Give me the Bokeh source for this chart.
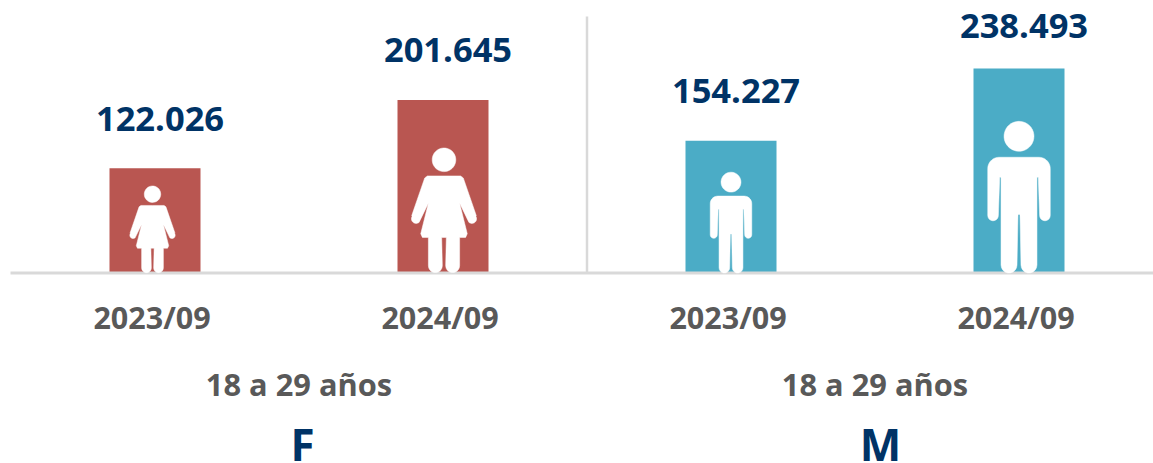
import numpy as np
from bokeh.embed import file_html
from bokeh.resources import INLINE
from bokeh.plotting import figure
from bokeh.models import Range1d, ColumnDataSource
from bokeh.core.properties import value

# ---- data
periods = ["2023/09", "2024/09", "2023/09", "2024/09"]
values = [122026, 201645, 154227, 238493]
colors = ["#B95651", "#B95651", "#4BACC6", "#4BACC6"]
icon_kind = ["woman", "woman", "man", "man"]
icon_height_px = [87, 125, 101, 152]
icon_shift_px = [-2.5, 1, 0, 0]
label_gap_px = [35, 35.7, 35, 28]
group_x = [0.5, 2.5]
group_labels = ["18 a 29 años", "18 a 29 años"]
gender_labels = ["F", "M"]
gender_offset_px = [3.5, 5.5]

# ---- layout (picture pixels)
W, H = 1153, 463
BASE = 272.5
PX_X = 288.0
PX_Y = 204.5 / 238493
BAR_W = 91 / PX_X
FONT = "Open Sans"
NAVY = "#003366"
GREY = "#595959"
RULE = "#D9D9D9"
RULE_LEFT = 10
BL = 0.42  # em shift of the rendered baseline below the anchor
VALUE_SIZE = 34.5


def data_y(py):
    return (BASE - py) / PX_Y


X0 = -154.5 / PX_X
X1 = X0 + W / PX_X

p = figure(width=W, height=H, output_backend="svg", toolbar_location=None,
           x_range=Range1d(X0, X1), y_range=Range1d(data_y(H), data_y(0)),
           min_border=0, outline_line_color=None, x_axis_location=None, y_axis_location=None,
           background_fill_color="white", border_fill_color="white")
p.grid.visible = False

idx = list(range(len(values)))

src = ColumnDataSource(dict(x=idx, top=values, color=colors,
                            gap=[-g - BL * VALUE_SIZE for g in label_gap_px],
                            label=[f"{v:,}".replace(",", ".") for v in values]))
p.vbar(x="x", top="top", bottom=0, width=BAR_W, fill_color="color", line_color=None, source=src)
p.text(x="x", y="top", text="label", source=src, text_align="center", text_baseline="alphabetic",
       x_offset=5, y_offset="gap", text_font=value(FONT), text_font_style="bold",
       text_font_size=f"{VALUE_SIZE}px", text_color=NAVY)

# baseline and separator between the two groups
p.segment(x0=[X0 + RULE_LEFT / PX_X], x1=[X1], y0=[0], y1=[0], line_color=RULE, line_width=3)
p.segment(x0=[1.5], x1=[1.5], y0=[0], y1=[data_y(16)], line_color=RULE, line_width=2.5)


def arc(cx, cy, r, a0, a1, n=10):
    t = np.radians(np.linspace(a0, a1, n))
    return [(cx + r * np.cos(a), cy + r * np.sin(a)) for a in t]


# Right half outlines in reference-zoom units: dx from centre, dy down from head top.
def man_shape():
    total = 457.0
    half = [(0, 109), (60, 109)] + arc(60, 143, 34, -90, 0) + [(94, 284)] + arc(78, 284, 16, 0, 180) \
        + [(58, 169), (54, 169), (54, 433)] + arc(30, 433, 24, 0, 180) + [(3, 281), (0, 281)]
    return half, (46, 45), total


def woman_shape():
    total = 376.0
    half = [(0, 84), (50, 84), (58, 90), (97, 203)] + arc(84, 213, 14, -30, 130) \
        + [(47, 166), (70, 258), (65, 269), (47, 269), (47, 354)] + arc(26, 354, 21, 0, 180) \
        + [(7, 269), (0, 269)]
    return half, (35.5, 35.5), total


xs, ys = [], []
for i, kind, hpx, shift in zip(idx, icon_kind, icon_height_px, icon_shift_px):
    half, (cy, r), total = man_shape() if kind == "man" else woman_shape()
    s = hpx / total
    pts = half + [(-a, b) for a, b in reversed(half)]
    to_x = lambda dx: i + (dx * s + shift) / PX_X
    to_y = lambda dy: (total - dy) * s / PX_Y
    xs.append([to_x(a) for a, _ in pts])
    ys.append([to_y(b) for _, b in pts])
    head = arc(0, cy, r, 0, 360, 40)
    xs.append([to_x(a) for a, _ in head])
    ys.append([to_y(b) for _, b in head])
p.patches(xs, ys, fill_color="white", line_color="white", line_width=0.5)

# period labels and group captions below the baseline
p.text(x=idx, y=[data_y(329.3 - BL * 30.5)] * 4, x_offset=-3, text=periods, text_align="center",
       text_baseline="alphabetic", text_font=value(FONT), text_font_style="bold",
       text_font_size="30.5px", text_color=GREY)
p.text(x=group_x, y=[data_y(396 - BL * 30.8)] * 2, text=group_labels, text_align="center",
       text_baseline="alphabetic", text_font=value(FONT), text_font_style="bold",
       text_font_size="30.8px", text_color=GREY)
p.text(x=[g + o / PX_X for g, o in zip(group_x, gender_offset_px)], y=[data_y(461.5 - BL * 44)] * 2,
       text=gender_labels, text_align="center", text_baseline="alphabetic",
       text_font=value(FONT), text_font_style="bold", text_font_size="44px", text_color=NAVY)

open("out.html", "w").write(file_html(p, INLINE))
